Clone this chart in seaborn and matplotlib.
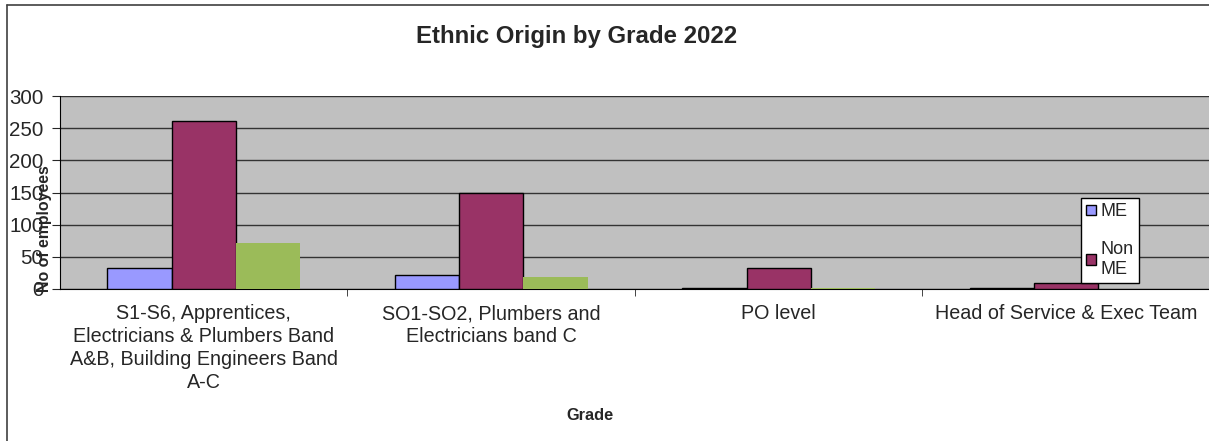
import matplotlib
matplotlib.use("Agg")
import matplotlib.pyplot as plt
from matplotlib.lines import Line2D
from matplotlib.patches import Patch
import seaborn as sns
import pandas as pd

grades = ["S1-S6, Apprentices,\nElectricians & Plumbers Band\nA&B, Building Engineers Band\nA-C",
          "SO1-SO2, Plumbers and\nElectricians band C",
          "PO level",
          "Head of Service & Exec Team"]
me = [33, 21, 1, 1]
non_me = [261, 149, 33, 10]
unknown = [71, 18, 1, 0]
series = ["ME", "Non\nME", "Not known"]
colors = ["#9999FF", "#993366", "#9BBB59"]

df = pd.DataFrame({
    "Grade": grades * 3,
    "Count": me + non_me + unknown,
    "Group": [series[0]] * 4 + [series[1]] * 4 + [series[2]] * 4,
})

sns.set_style("white")
plt.rcParams['font.family'] = ['Liberation Sans', 'DejaVu Sans']

W, H = 1209, 441
fig = plt.figure(figsize=(W / 100, H / 100), dpi=100)
ax = fig.add_axes([60 / W, 1 - 289 / H, 1150 / W, 193 / H])
ax.set_facecolor("#C0C0C0")

sns.barplot(data=df, x="Grade", y="Count", hue="Group", palette=colors,
            saturation=1, width=0.67, ax=ax, legend=False, zorder=3)
for i, bar in enumerate(ax.patches):
    if i < 8:
        bar.set_edgecolor("black")
        bar.set_linewidth(1)
    else:
        bar.set_linewidth(0)

ax.set_ylim(0, 300)
ax.set_yticks(range(0, 301, 50))
ax.set_xlim(-0.5, 3.5)
ax.yaxis.grid(True, color="#333333", linewidth=1, zorder=0)
ax.set_axisbelow(True)
for side in ["top", "right"]:
    ax.spines[side].set_visible(False)
ax.spines["left"].set_color("black")
ax.spines["bottom"].set_color("black")
ax.tick_params(axis="y", labelsize=14.8, length=6, direction="out", left=True, pad=5.8)
ax.tick_params(axis="x", labelsize=14.2, length=0, pad=11)
for lab in ax.get_xticklabels():
    lab.set_linespacing(1.27)
ax.set_xticks([0.5, 1.5, 2.5], minor=True)
ax.tick_params(axis="x", which="minor", length=5, direction="out", bottom=True)
ax.set_xlabel("")
ax.set_ylabel("")

fig.text(44 / W, 1 - 229 / H, "No of employees", rotation=90, fontsize=11.4,
         fontweight="bold", ha="center", va="center")
fig.text(590 / W, 1 - 416 / H, "Grade", fontsize=11.8, fontweight="bold",
         ha="center", va="center")
fig.text(577 / W, 1 - 37 / H, "Ethnic Origin by Grade 2022", fontsize=17.3,
         fontweight="bold", ha="center", va="center")

handles = [Patch(facecolor=colors[0], edgecolor="black"),
           Patch(facecolor=colors[1], edgecolor="black")]
leg = fig.legend(handles, series[:2], loc="upper left",
                 bbox_to_anchor=(1081 / W, 1 - 198 / H), bbox_transform=fig.transFigure,
                 frameon=True, fancybox=False, edgecolor="black", fontsize=13,
                 handlelength=0.55, handleheight=0.55, handletextpad=0.25,
                 labelspacing=1.15, borderpad=0.3, borderaxespad=0)
leg.get_frame().set_linewidth(1)
leg.get_frame().set_alpha(1)

# chart area border (top and left edges visible)
fig.add_artist(Line2D([7 / W, 7 / W], [0, 1 - 5 / H], transform=fig.transFigure,
                      color="#404040", linewidth=1.2))
fig.add_artist(Line2D([7 / W, 1], [1 - 5 / H, 1 - 5 / H], transform=fig.transFigure,
                      color="#404040", linewidth=1.2))

fig.savefig("out.png", dpi=100, facecolor="white")
